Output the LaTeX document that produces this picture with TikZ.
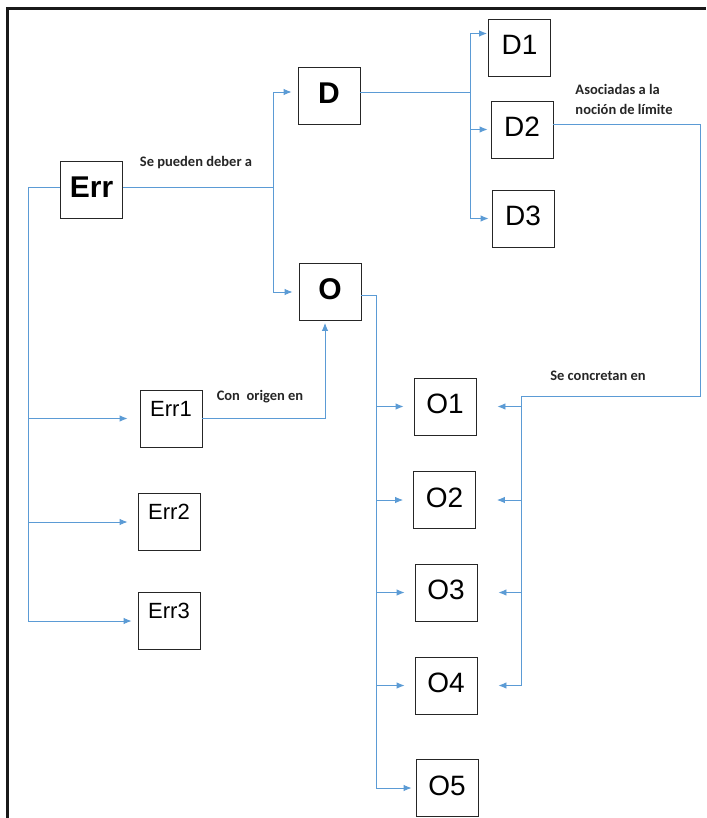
\documentclass[tikz,border=0pt]{standalone}
\usepackage{fontspec}
\setmainfont{Liberation Sans}
\newfontfamily\labelfont{Carlito}
\usetikzlibrary{arrows.meta}
\definecolor{linkblue}{HTML}{5B9BD5}
\tikzset{
  box/.style={draw=black!85,line width=0.9pt,minimum width=62pt,minimum height=57pt,inner sep=0pt,text depth=5pt,font=\fontsize{28}{30}\selectfont},
  bigbox/.style={box,font=\fontsize{30}{32}\selectfont\bfseries},
  errbox/.style={box,font=\fontsize{22}{24}\selectfont,text height=16pt,text depth=21pt},
  link/.style={linkblue,line width=0.9pt},
  arr/.style={link,-{Latex[length=8pt,width=6.5pt]}},
  note/.style={font=\labelfont\bfseries\fontsize{14.5}{20}\selectfont,text=black!85,inner sep=0pt}
}
\begin{document}
\begin{tikzpicture}[x=1pt,y=-1pt]
\useasboundingbox (0,0) rectangle (706,818);
\fill[white](0,0) rectangle (706,818);
\draw[black!90,line width=3pt](7,818) -- (7,9) -- (706,9);
% boxes
\node[bigbox](err) at (91.5,190){Err};
\node[bigbox](d) at (329,96){D};
\node[bigbox](o) at (330,292){O};
\node[box](d1) at (519.5,47.5){D1};
\node[box](d2) at (522,129.5){D2};
\node[box](d3) at (523,218.5){D3};
\node[errbox](err1) at (171,418.5){Err1};
\node[errbox](err2) at (169,522){Err2};
\node[errbox](err3) at (169,621){Err3};
\node[box](o1) at (445,406.5){O1};
\node[box](o2) at (444.5,500){O2};
\node[box](o3) at (446,592.5){O3};
\node[box](o4) at (446,685.5){O4};
\node[box](o5) at (447,788){O5};
% labels
\node[note](lbl1) at (196,163){Se pueden deber a};
\node[note](lbl2) at (260,397){Con\ \ origen en};
\node[note,align=left](lbl3) at (624,99){Asociadas a la\\noción de límite};
\node[note](lbl4) at (598,376){Se concretan en};
% Err to its three kinds
\coordinate (et) at (28,187);
\draw[link](err.west |- et) -- (et) -- (et |- err3.west);
\draw[arr,shorten >=12pt](et |- err1.west) -- (err1.west);
\draw[arr,shorten >=10pt](et |- err2.west) -- (err2.west);
\draw[arr,shorten >=6pt](et |- err3.west) -- (err3.west);
% Err to D and O
\coordinate (dt) at (273,187);
\draw[link](err.east |- dt) -- (dt);
\draw[arr,shorten >=6pt](dt) |- ([yshift=4pt]d.west);
\draw[arr,shorten >=6pt](dt) |- (o.west);
% D to D1, D2, D3
\coordinate (ddt) at (470,92);
\draw[link](d.east |- ddt) -- (ddt);
\draw[arr,shorten >=1pt](ddt) |- ([yshift=14pt]d1.west);
\draw[arr,shorten >=3pt](ddt) |- (d2.west);
\draw[arr,shorten >=3pt](ddt) |- (d3.west);
% O to O1 ... O5
\coordinate (ot) at (376,295);
\draw[link](o.east |- ot) -- (ot) -- (ot |- o5.west);
\foreach \k in {o1,o2,o3,o4}
  \draw[arr,shorten >=10pt](ot |- \k.west) -- (\k.west);
\draw[arr,shorten >=4pt](ot |- o5.west) -- (o5.west);
% Err1 to O
\draw[arr,shorten >=2pt](err1.east) -| ([xshift=-5pt]o.south);
% D2 to O1 ... O4
\coordinate (rc) at (700,124);
\coordinate (rt) at (521,396);
\draw[link](d2.east |- rc) -- (rc) -- (rc |- rt) -- (rt) -- (rt |- o4.east);
\foreach \k in {o1,o2,o3,o4}
  \draw[arr,shorten >=21pt](rt |- \k.east) -- (\k.east);
\end{tikzpicture}
\end{document}
